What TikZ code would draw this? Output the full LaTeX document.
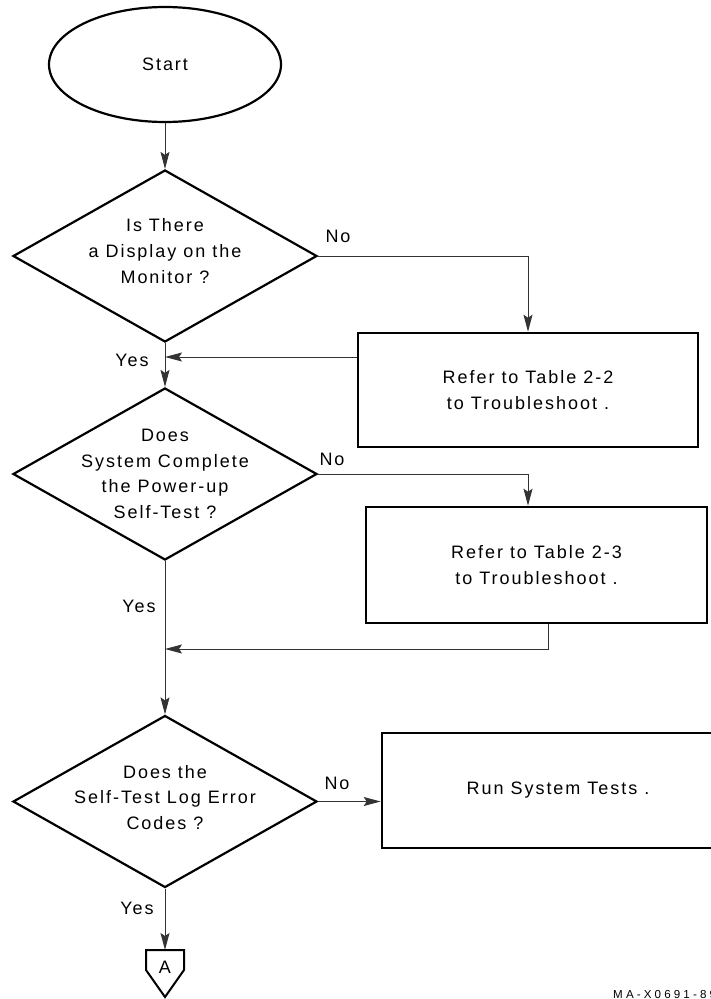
\documentclass[tikz,border=0pt]{standalone}
\usepackage{fontspec}
\setmainfont{Liberation Sans}[LetterSpace=11]
\newfontfamily\tagfont{Liberation Sans}[LetterSpace=27]
\usetikzlibrary{arrows.meta,shapes.geometric}
\begin{document}
\begin{tikzpicture}[x=1pt, y=-1pt, font=\fontsize{18}{25.7}\selectfont,
  >={Stealth[length=17pt, width=9pt, inset=3pt]},
  terminal/.style={ellipse, draw, line width=2.2pt, minimum width=232pt, minimum height=115pt},
  decision/.style={diamond, draw, line width=2.2pt, minimum width=304pt, minimum height=172pt, inner sep=0pt},
  process/.style={rectangle, draw, line width=2.6pt, minimum height=115pt, align=center},
  qtext/.style={align=center},
  flow/.style={->, line width=1pt, black!80}]

\useasboundingbox (0,0) rectangle (711,999);

\node [terminal] (start) at (165,64.5) {Start};
\node [decision] (q1) at (165,256) {};
\node [decision] (q2) at (165,474) {};
\node [decision] (q3) at (165,801.5) {};

\node [qtext] at ([yshift=5pt]q1) {Is There\\a Display on the\\Monitor ?};
\node [qtext] at (q2) {Does\\System Complete\\the Power-up\\Self-Test ?};
\node [qtext] at ([yshift=4pt]q3) {Does the\\Self-Test Log Error\\Codes ?};

\node [process, minimum width=340pt, minimum height=114pt] (box1) at (528,390) {Refer to Table 2-2\\to Troubleshoot .};
\node [process, minimum width=341pt, minimum height=116pt] (box2) at (536.5,565) {Refer to Table 2-3\\to Troubleshoot .};
\node [process, minimum width=352pt] (box3) at (558,790.5) {Run System Tests .};

% off-page connector
\node (conA) at (165,967) {A};
\draw [line width=2pt] (conA) ++(-19,-17) -- ++(38,0) -- ++(0,20) -- ++(-19,27) -- ++(-19,-27) -- cycle;
\coordinate (Atop) at (165,950);

\node at (338,236) {No};
\node at (332,459) {No};
\node at (337,783) {No};
\node at (132,360) {Yes};
\node at (139,606) {Yes};
\node at (137,908) {Yes};

\coordinate (j1) at (165,357);
\coordinate (j2) at (165,649);

\draw [flow] (start) -- (q1);
\draw [flow] (q1.east) -| (box1.north);
\draw [flow] (box1.west |- j1) -- (j1);
\draw [flow] (q1) -- (q2);
\draw [flow] (q2.east) -| (box2.north -| box1.north);
\draw [flow] ([xshift=12pt]box2.south) |- (j2);
\draw [flow] (q2) -- (q3);
\draw [flow] (q3.east) -- (q3.east -| box3.west);
\draw [flow] (q3) -- (Atop);

\node [anchor=base west, inner sep=0pt, font=\tagfont\fontsize{11.6}{14}\selectfont] at (613,998) {MA-X0691-89};

\end{tikzpicture}
\end{document}
